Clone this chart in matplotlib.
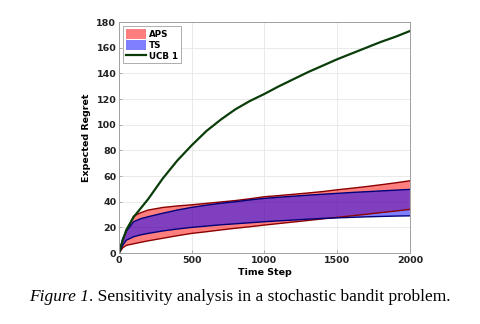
import matplotlib
matplotlib.use("Agg")
import matplotlib.pyplot as plt

# curvas
t = [0, 25, 50, 100, 150, 200, 300, 400, 500, 600, 700, 800, 900, 1000, 1100, 1200, 1300,
     1400, 1500, 1600, 1700, 1800, 1900, 2000]
ucb = [0, 10, 18, 28, 35, 42, 58, 72, 84, 95, 104, 112, 118.5, 124, 130, 135.5, 141,
       146, 151, 155.5, 160, 164.5, 168.5, 173]

aps_sup = [0, 10, 17, 28.8, 31.5, 33.5, 35.5, 36.7, 37.6, 38.7, 39.8, 40.9, 42.3, 43.9, 44.8, 45.8, 46.8,
           47.9, 49.3, 50.5, 51.8, 53.2, 54.7, 56.3]
aps_inf = [0, 4, 6, 7.2, 8.4, 9.5, 11.5, 13.5, 15.3, 16.6, 18, 19.3, 20.5, 21.8, 23, 24.2, 25.4,
           26.6, 27.8, 29, 30.2, 31.5, 32.7, 34]

ts_sup = [0, 11, 17, 24.4, 26.8, 28.3, 31, 33.5, 35.6, 37.3, 38.8, 40, 41.4, 42.6, 43.5, 44.3, 45.1,
          45.8, 46.5, 47.2, 47.8, 48.4, 49, 49.6]
ts_inf = [0, 6, 10, 12.7, 14.2, 15.3, 17.2, 18.7, 20, 21, 22, 22.8, 23.6, 24.4, 25.1, 25.7, 26.4,
          27, 27.4, 27.8, 28.2, 28.5, 28.8, 29]

fig = plt.figure(figsize=(4.8, 3.24), dpi=100)
ax = fig.add_axes([0.248, 0.219, 0.606, 0.713])

ax.fill_between(t, aps_inf, aps_sup, facecolor=(1, 0, 0, 0.5), edgecolor="none", label="APS")
ax.plot(t, aps_sup, color="#8b0000", lw=1)
ax.plot(t, aps_inf, color="#8b0000", lw=1)
ax.fill_between(t, ts_inf, ts_sup, facecolor=(0, 0, 1, 0.5), edgecolor="none", label="TS")
ax.plot(t, ts_sup, color="#00007a", lw=1)
ax.plot(t, ts_inf, color="#00007a", lw=1)
ax.plot(t, ucb, color="#0b3d0b", lw=1.6, label="UCB 1")

ax.set_xlim(0, 2000)
ax.set_ylim(0, 180)
ax.set_xticks([0, 500, 1000, 1500, 2000])
ax.set_yticks(range(0, 181, 20))
ax.grid(True, color="#e6e6e6", lw=0.6)
ax.set_axisbelow(True)
for s in ax.spines.values():
    s.set_color("#a0a0a0")
    s.set_linewidth(0.7)
ax.tick_params(direction="in", length=2.5, width=0.6, color="#a0a0a0",
               labelsize=6.8, labelcolor="#222222", pad=2)
for lab in ax.get_xticklabels() + ax.get_yticklabels():
    lab.set_fontweight("bold")

ax.set_xlabel("Time Step", fontsize=6.8, fontweight="bold", labelpad=2)
ax.set_ylabel("Expected Regret", fontsize=6.8, fontweight="bold", labelpad=4)

leg = ax.legend(loc="upper left", prop={"weight": "bold", "size": 6.3},
                fancybox=False, framealpha=1, edgecolor="#a0a0a0",
                handlelength=2.3, handleheight=1.3, handletextpad=0.3, borderpad=0.3,
                labelspacing=0.15, borderaxespad=0.5)
leg.get_frame().set_linewidth(0.6)

# pie de figura: parte en cursiva + resto, centrado entre los dos
r = fig.canvas.get_renderer()
t1 = fig.text(0, 0.083, "Figure 1", fontsize=12.5, family="Liberation Serif",
              style="italic", va="center")
t2 = fig.text(0, 0.083, ". Sensitivity analysis in a stochastic bandit problem.",
              fontsize=12.5, family="Liberation Serif", va="center")
w1 = t1.get_window_extent(r).width / fig.bbox.width
w2 = t2.get_window_extent(r).width / fig.bbox.width
x0 = 0.5 - (w1 + w2) / 2
t1.set_x(x0)
t2.set_x(x0 + w1)

fig.savefig("out.png", dpi=100)
